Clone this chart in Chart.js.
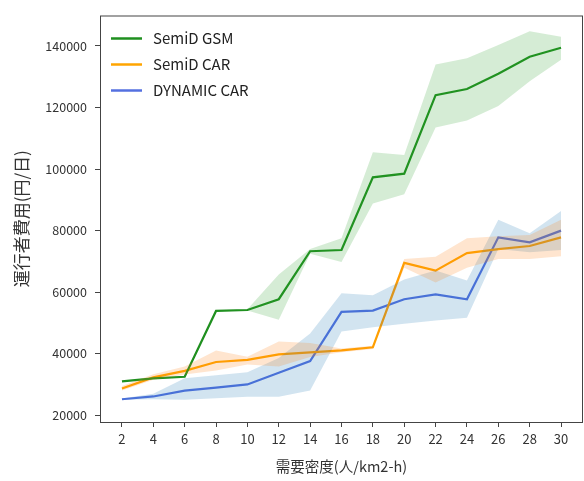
<!DOCTYPE html>
<html>
<head>
<meta charset="utf-8">
<script src="https://cdn.jsdelivr.net/npm/chart.js@4"></script>
<style>
  html, body { margin: 0; padding: 0; background: #fff; }
  #wrap { width: 584px; height: 481px; }
</style>
</head>
<body>
<div id="wrap"><canvas id="costChart" width="584" height="481"></canvas></div>
<script>
// demand density (x)
const density = [2, 4, 6, 8, 10, 12, 14, 16, 18, 20, 22, 24, 26, 28, 30];

// SemiD GSM
const gsmMean = [31000, 32000, 32500, 53900, 54200, 57700, 73300, 73700, 97300, 98500, 124000, 126000, 131000, 136500, 139400];
const gsmLow  = [30800, 31800, 32300, 53700, 54000, 51000, 72500, 69800, 88800, 91800, 113500, 115800, 120500, 128500, 135500];
const gsmHigh = [31200, 32200, 32700, 54100, 54400, 65700, 74000, 77500, 105500, 104600, 134000, 136000, 140300, 144800, 143000];

// SemiD CAR
const semiMean = [28700, 32300, 34400, 37300, 38000, 39800, 40400, 41100, 42100, 69500, 67000, 72700, 74000, 75000, 77800];
const semiLow  = [28000, 31500, 33200, 34500, 36500, 35800, 38900, 40500, 41500, 67900, 63100, 67900, 70800, 70800, 71700];
const semiHigh = [29500, 33300, 35800, 41000, 39000, 44000, 43500, 41700, 42600, 70800, 71500, 77500, 78200, 78600, 83500];

// DYNAMIC CAR
const dynMean = [25200, 26100, 28000, 29000, 30000, 33800, 37600, 53600, 54000, 57700, 59300, 57700, 77800, 76200, 80000];
const dynLow  = [25000, 25200, 25000, 25500, 26000, 26000, 28000, 47200, 48600, 49700, 50800, 51700, 74000, 73000, 73700];
const dynHigh = [25400, 27000, 32000, 33000, 34000, 38600, 46600, 59600, 59000, 64100, 67000, 63800, 83500, 79100, 86400];

const xTicks = [2, 4, 6, 8, 10, 12, 14, 16, 18, 20, 22, 24, 26, 28, 30];
const yTicks = [20000, 40000, 60000, 80000, 100000, 120000, 140000];

const seriesNames = ['SemiD GSM', 'SemiD CAR', 'DYNAMIC CAR'];

function pts(arr) {
    return arr.map((v, i) => ({ x: density[i], y: v }));
}

function band(low, high, fillColor) {
    return [
        { label: '_low', data: pts(low), borderWidth: 0, pointRadius: 0, fill: false, borderColor: 'rgba(0,0,0,0)' },
        { label: '_high', data: pts(high), borderWidth: 0, pointRadius: 0, fill: '-1', backgroundColor: fillColor, borderColor: 'rgba(0,0,0,0)' }
    ];
}

const lineColors = ['#1f8f1f', '#ffa500', '#5470e0'];

const FONT = '"Noto Sans CJK JP", "Noto Sans", sans-serif';

// legend drawn inside the plot, top-left like matplotlib
const innerLegend = {
    id: 'innerLegend',
    afterDatasetsDraw(chart) {
        const ctx = chart.ctx;
        const area = chart.chartArea;
        ctx.save();
        ctx.font = '15px ' + FONT;
        ctx.textBaseline = 'middle';
        seriesNames.forEach((name, i) => {
            const y = area.top + 23 + i * 26;
            ctx.strokeStyle = lineColors[i];
            ctx.lineWidth = 2.5;
            ctx.beginPath();
            ctx.moveTo(area.left + 11, y);
            ctx.lineTo(area.left + 42, y);
            ctx.stroke();
            ctx.fillStyle = '#222';
            ctx.fillText(name, area.left + 53, y);
        });
        ctx.restore();
    }
};

const frame = {
    id: 'frame',
    afterDraw(chart) {
        const a = chart.chartArea;
        const ctx = chart.ctx;
        ctx.save();
        ctx.strokeStyle = '#444';
        ctx.lineWidth = 1;
        ctx.strokeRect(a.left + 0.5, a.top + 0.5, a.right - a.left - 1, a.bottom - a.top);
        ctx.restore();
    }
};

new Chart(document.getElementById('costChart'), {
    type: 'line',
    data: {
        datasets: [
            ...band(gsmLow, gsmHigh, 'rgba(44,160,44,0.2)'),
            ...band(semiLow, semiHigh, 'rgba(255,127,14,0.2)'),
            ...band(dynLow, dynHigh, 'rgba(31,119,180,0.2)'),
            { label: seriesNames[0], data: pts(gsmMean), borderColor: lineColors[0], borderWidth: 2.2, pointRadius: 0, fill: false },
            { label: seriesNames[1], data: pts(semiMean), borderColor: lineColors[1], borderWidth: 2.2, pointRadius: 0, fill: false },
            { label: seriesNames[2], data: pts(dynMean), borderColor: lineColors[2], borderWidth: 2.2, pointRadius: 0, fill: false }
        ]
    },
    options: {
        responsive: false,
        animation: false,
        layout: { padding: { top: 8, right: 1, left: 0, bottom: 0 } },
        plugins: {
            legend: { display: false },
            tooltip: { enabled: false },
            filler: { propagate: false }
        },
        scales: {
            x: {
                type: 'linear',
                min: 0.6,
                max: 31.4,
                afterBuildTicks(scale) { scale.ticks = xTicks.map(v => ({ value: v })); },
                afterFit(scale) { scale.height = 59; },
                grid: { drawOnChartArea: false, drawTicks: true, tickLength: 5, color: '#444' },
                border: { display: false },
                ticks: { color: '#333', padding: 4, maxRotation: 0, autoSkip: false, font: { family: FONT, size: 13 } },
                title: { display: true, text: '需要密度(人/km2-h)', color: '#333', font: { family: FONT, size: 14.5 }, padding: { top: 0, bottom: 6 } }
            },
            y: {
                min: 17800,
                max: 149900,
                afterBuildTicks(scale) { scale.ticks = yTicks.map(v => ({ value: v })); },
                afterFit(scale) { scale.width = 100; },
                grid: { drawOnChartArea: false, drawTicks: true, tickLength: 5, color: '#444' },
                border: { display: false },
                ticks: { color: '#333', padding: 8, font: { family: FONT, size: 12.5 }, callback: v => String(v) },
                title: { display: true, text: '運行者費用(円/日)', color: '#333', font: { family: FONT, size: 17 }, padding: { top: 11, bottom: 0 } }
            }
        }
    },
    plugins: [innerLegend, frame]
});
</script>
</body>
</html>
